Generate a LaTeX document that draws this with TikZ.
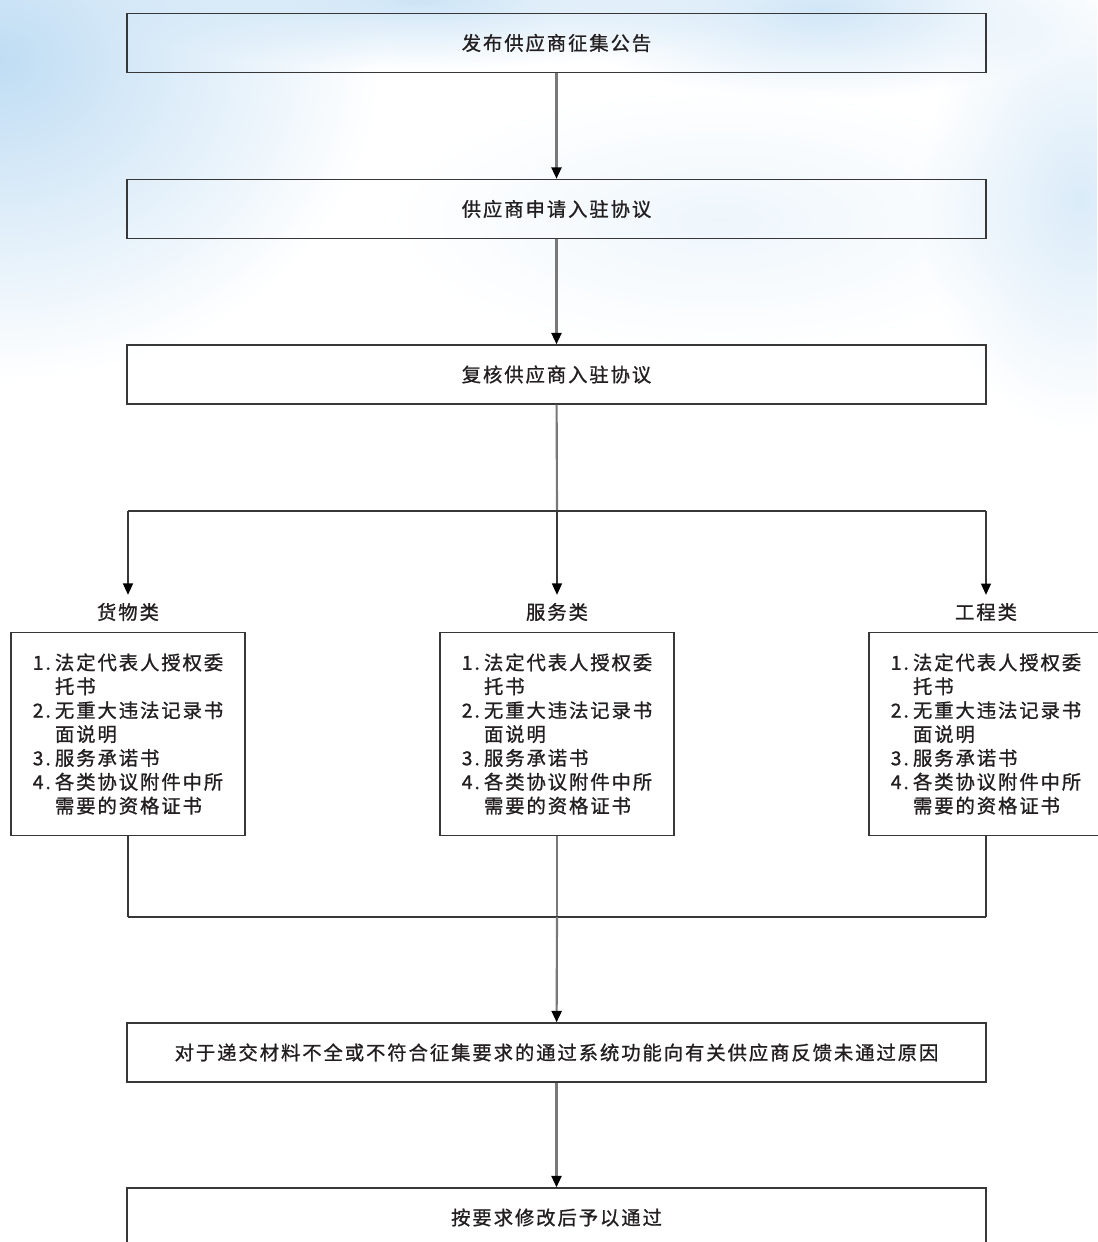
\documentclass[tikz,border=0pt]{standalone}
\usepackage{fontspec}
\setmainfont{Noto Sans CJK SC}[LetterSpace=10, FakeBold=1]
\usetikzlibrary{positioning, arrows.meta, fadings}

\definecolor{skyblue}{RGB}{188,219,243}
\definecolor{inkgray}{RGB}{35,31,32}
\definecolor{framegray}{RGB}{55,55,55}
\definecolor{trunkgray}{RGB}{120,120,120}

\tikzfading[name=cloudfade, inner color=transparent!0, outer color=transparent!100]

\newcommand{\itemno}[1]{\makebox[1.15em][l]{#1}}
\newcommand{\itemgap}{\hspace*{1.15em}}
\newcommand{\qualitems}{\itemno{1.}法定代表人授权委\\
  \itemgap 托书\\
  \itemno{2.}无重大违法记录书\\
  \itemgap 面说明\\
  \itemno{3.}服务承诺书\\
  \itemno{4.}各类协议附件中所\\
  \itemgap 需要的资格证书}

\begin{document}
\begin{tikzpicture}[x=0.75pt, y=-0.75pt,
    every node/.style={text=inkgray, font=\fontsize{14.5pt}{17.9pt}\selectfont},
    stagebox/.style={draw=framegray, line width=1.1pt, minimum width=644.25pt,
      minimum height=44.25pt, inner sep=0pt},
    docbox/.style={draw=framegray, line width=1.1pt, minimum width=175.5pt,
      minimum height=152.25pt, align=left, inner sep=0pt},
    tag/.style={inner sep=6pt},
    trunk/.style={draw=trunkgray, line width=1.6pt},
    branch/.style={draw=framegray, line width=1pt},
    headarrow/.style={-{Triangle[width=7.5pt,length=8.5pt,color=black]}}]

    \useasboundingbox (0,0) rectangle (1097,1242);

    % Sky in the background
    \begin{scope}
        \clip (0,0) rectangle (1097,1242);
        \fill[skyblue, path fading=cloudfade, fill opacity=0.95] (0,60) ellipse [x radius=380, y radius=320];
        \fill[skyblue, path fading=cloudfade, fill opacity=0.75] (420,0) ellipse [x radius=340, y radius=70];
        \fill[skyblue, path fading=cloudfade, fill opacity=0.7] (820,10) ellipse [x radius=270, y radius=90];
        \fill[skyblue, path fading=cloudfade, fill opacity=0.55] (1080,200) ellipse [x radius=160, y radius=230];
        \fill[skyblue, path fading=cloudfade, fill opacity=0.25] (720,220) ellipse [x radius=330, y radius=130];
    \end{scope}

    % Main steps
    \node[stagebox] (notice) at (556.5,43) {发布供应商征集公告};
    \node[stagebox] (apply) at (556.5,209) {供应商申请入驻协议};
    \node[stagebox] (review) at (556.5,374.5) {复核供应商入驻协议};

    % Split into three categories
    \coordinate (split) at (557,511);
    \coordinate (splitL) at (128,511);
    \coordinate (splitR) at (986,511);
    \node[tag] (goodsTag) at (128,612) {货物类};
    \node[tag] (servTag) at (557,612) {服务类};
    \node[tag] (engTag) at (986,612) {工程类};

    \node[docbox] (goods) at (128,734) {\qualitems};
    \node[docbox] (serv) at (557,734) {\qualitems};
    \node[docbox] (eng) at (986,734) {\qualitems};

    % Merge again
    \coordinate (merge) at (557,917);
    \coordinate (mergeL) at (128,917);
    \coordinate (mergeR) at (986,917);

    \node[stagebox] (feedback) at (556.5,1052.5) {对于递交材料不全或不符合征集要求的通过系统功能向有关供应商反馈未通过原因};
    \node[stagebox] (pass) at (556.5,1217.5) {按要求修改后予以通过};

    % Connectors
    \draw[trunk, headarrow] (notice) -- (apply);
    \draw[trunk, headarrow] (apply) -- (review);
    \draw[trunk] (review) -- (split);
    \draw[branch] (splitL) -- (splitR);
    \draw[branch, headarrow] (splitL) -- (goodsTag);
    \draw[branch, headarrow] (split) -- (servTag);
    \draw[branch, headarrow] (splitR) -- (engTag);

    \draw[branch] (goods) -- (mergeL);
    \draw[trunk] (serv) -- (merge);
    \draw[branch] (eng) -- (mergeR);
    \draw[branch] (mergeL) -- (mergeR);
    \draw[trunk, headarrow] (merge) -- (feedback);
    \draw[trunk, headarrow] (feedback) -- (pass);

\end{tikzpicture}
\end{document}
